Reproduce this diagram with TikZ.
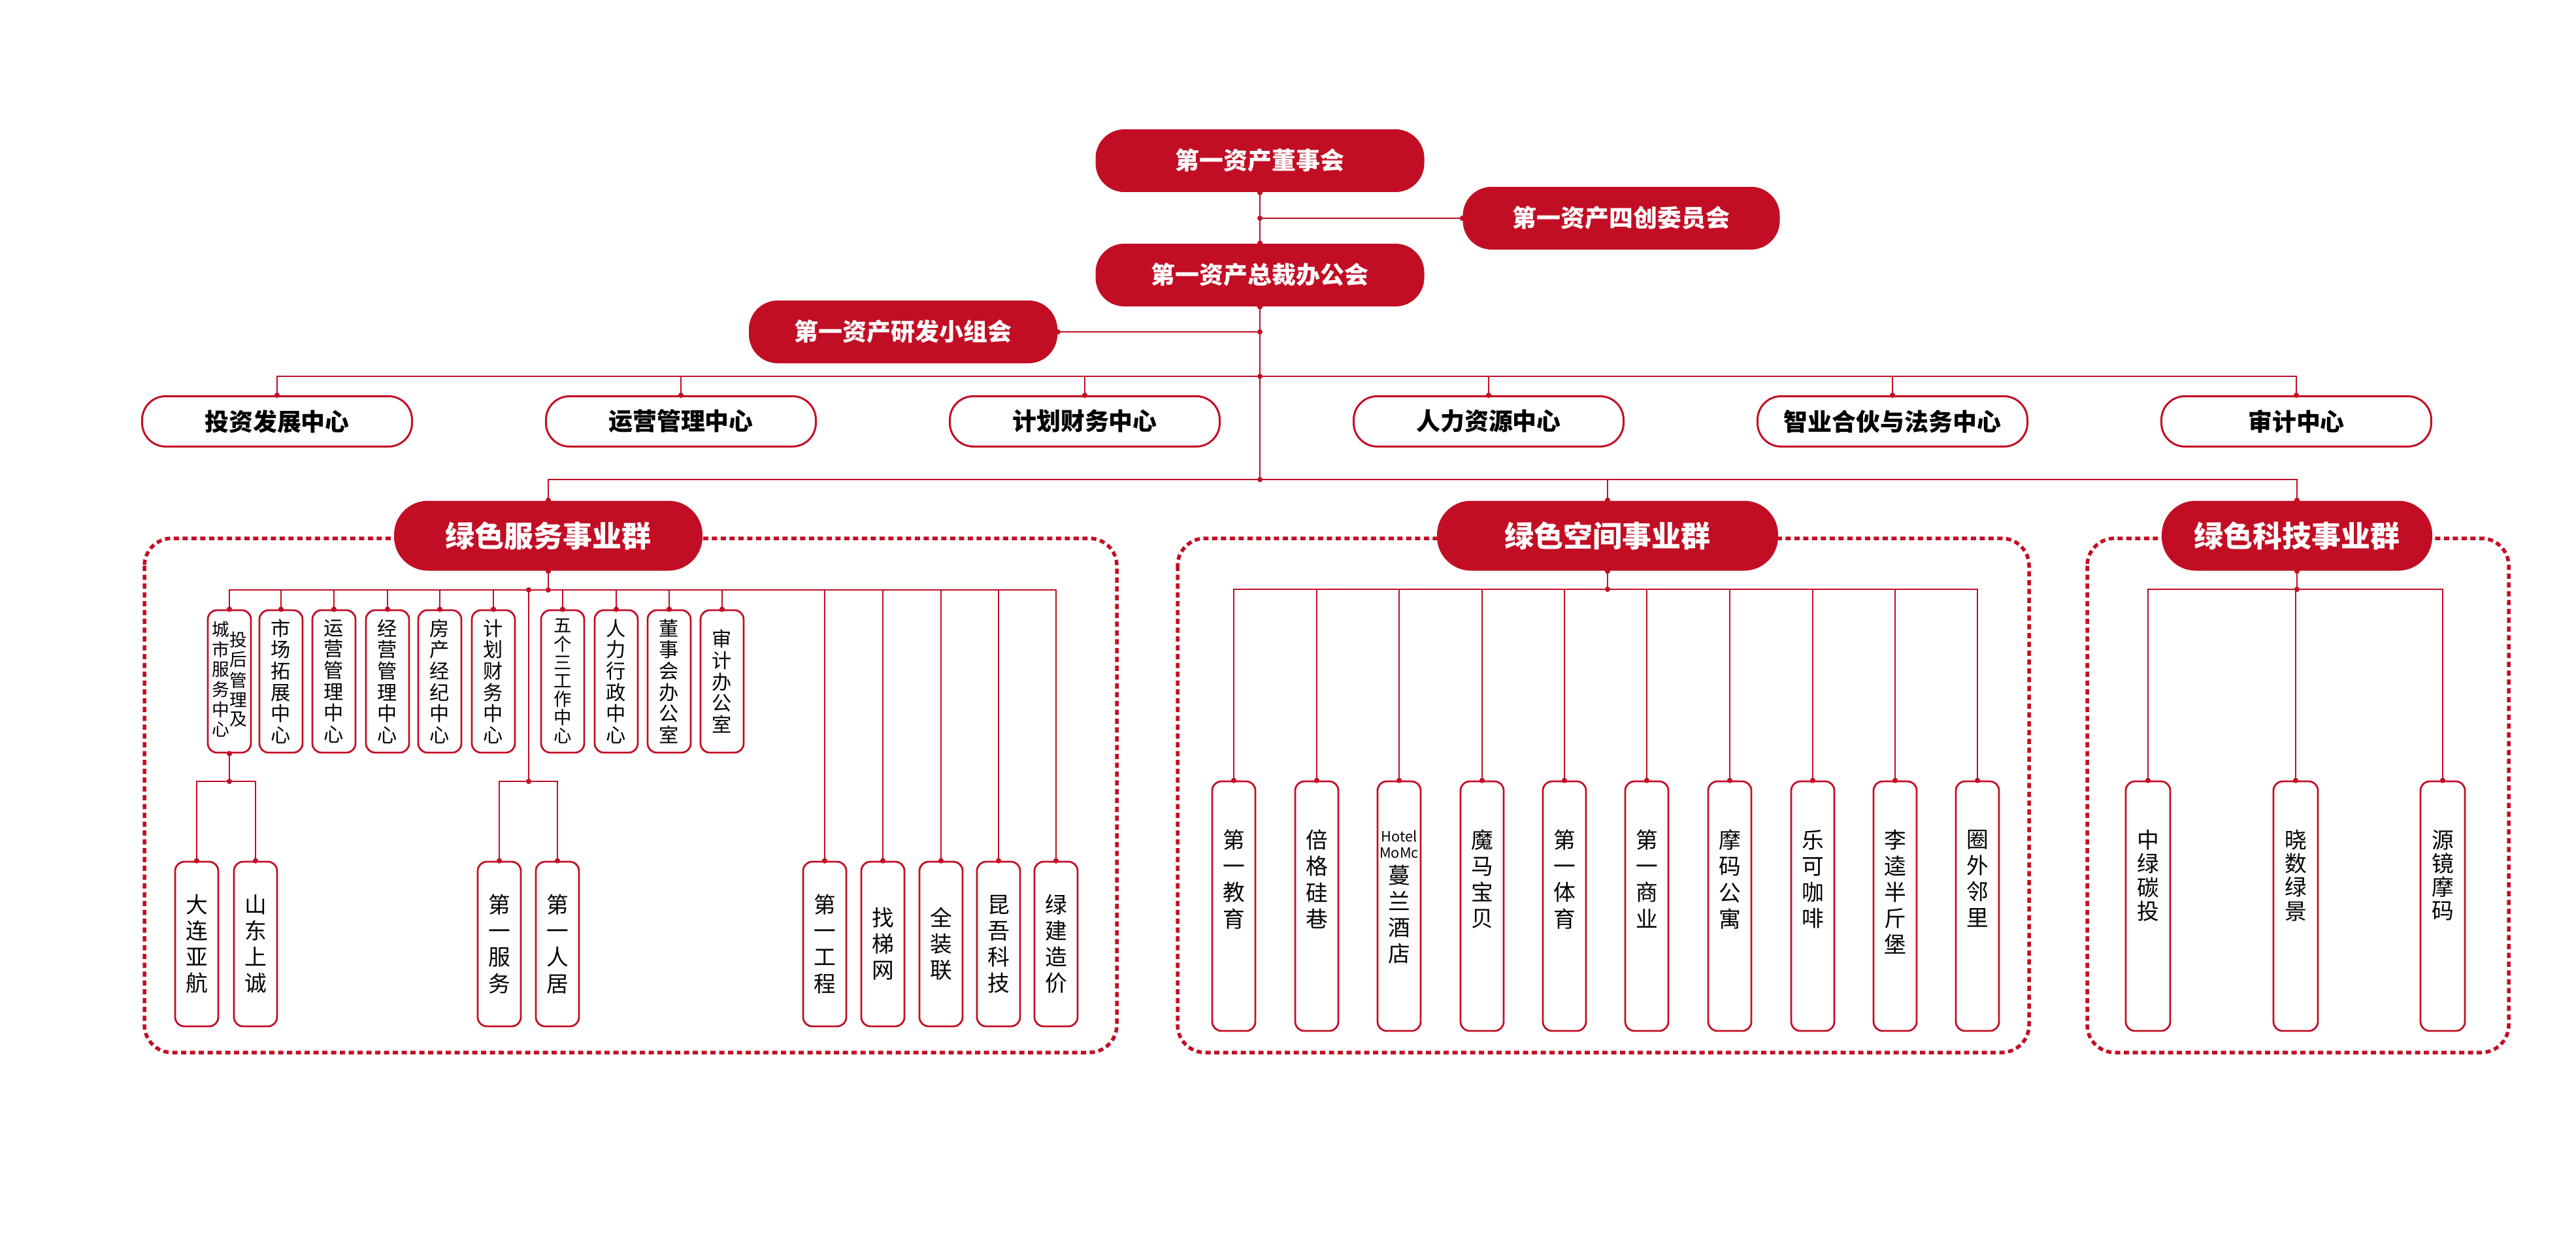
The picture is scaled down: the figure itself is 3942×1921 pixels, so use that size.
\documentclass[tikz,border=0pt]{standalone}
\usepackage{fontspec}
\setmainfont{Noto Sans CJK SC}
\usepackage{xcolor}
\usetikzlibrary{arrows.meta,positioning,calc}
\definecolor{brandred}{RGB}{194,14,36}

\begin{document}
\begin{tikzpicture}[
    x=0.1mm,
    y=-0.1mm,
    wire/.style={draw=brandred, line width=0.26mm},
    dotend/.style={-{Circle[length=0.8mm]}, shorten >=-0.4mm},
    dotstart/.style={{Circle[length=0.8mm]}-, shorten <=-0.4mm},
    dotboth/.style={{Circle[length=0.8mm]}-{Circle[length=0.8mm]},
                    shorten <=-0.4mm, shorten >=-0.4mm},
    jdot/.style={circle, fill=brandred, inner sep=0pt, minimum size=0.8mm},
    boardbox/.style={fill=brandred, text=white, rounded corners=4.4mm,
                     minimum height=9.6mm, inner sep=0pt,
                     font=\bfseries\fontsize{10.5}{12}\selectfont},
    funcbox/.style={draw=brandred, line width=0.3mm, fill=white,
                    rounded corners=3.6mm, minimum width=41.3mm,
                    minimum height=7.7mm, inner sep=0pt,
                    font=\bfseries\fontsize{10.5}{12}\selectfont},
    grpbox/.style={fill=brandred, text=white, rounded corners=5.2mm,
                   minimum height=10.7mm, inner sep=0pt,
                   font=\bfseries\fontsize{12.8}{14}\selectfont},
    grpframe/.style={draw=brandred, line width=0.55mm,
                     dash pattern=on 0.8mm off 0.55mm, rounded corners=4.2mm},
    deptbox/.style={draw=brandred, line width=0.28mm, fill=white,
                    rounded corners=1.4mm, minimum width=6.6mm,
                    minimum height=21.8mm, inner sep=0pt, align=center,
                    font=\fontsize{8.6}{9.3}\selectfont},
    unitbox/.style={deptbox, minimum height=25.2mm,
                    font=\fontsize{9.6}{11.4}\selectfont},
    tallbox/.style={deptbox, minimum height=38.2mm},
    unitlabel/.style={anchor=north, inner sep=0pt, align=center,
                      font=\fontsize{9.6}{11.4}\selectfont},
]
\useasboundingbox (0,0) rectangle (3942,1921);

% frames of the three groups
\draw[grpframe] (221,824) rectangle (1709,1611);
\draw[grpframe] (1802,824) rectangle (3105,1611);
\draw[grpframe] (3194,824) rectangle (3839,1611);

% top level
\node[boardbox, minimum width=50.3mm] (board) at (1928,246) {第一资产董事会};
\node[boardbox, minimum width=48.5mm] (innov) at (2481,334) {第一资产四创委员会};
\node[boardbox, minimum width=50.3mm] (pres) at (1928,421) {第一资产总裁办公会};
\node[boardbox, minimum width=47.2mm] (rnd) at (1382,508) {第一资产研发小组会};

\coordinate (tInnov) at (board.south |- innov.west);
\coordinate (tRnd) at (pres.south |- rnd.east);
\coordinate (tFunc) at (1928,576);
\coordinate (tGrp) at (1928,734);

\draw[wire, dotboth] (board.south) -- (pres.north);
\draw[wire, dotend] (tInnov) -- (innov.west);
\draw[wire, dotstart] (pres.south) -- (tGrp);
\draw[wire, dotend] (tRnd) -- (rnd.east);
\foreach \c in {tInnov,tRnd,tFunc,tGrp}
  \node[jdot] (\c-d) at (\c) {};

\foreach \n/\x/\t in {f1/424/投资发展中心, f2/1042/运营管理中心,
    f3/1660/计划财务中心, f4/2278/人力资源中心,
    f5/2896/智业合伙与法务中心, f6/3514/审计中心}{
  \node[funcbox] (\n) at (\x,645) {\t};
  \draw[wire, dotend] (tFunc) -| (\n.north);
}

\node[grpbox, minimum width=47.2mm] (g1) at (839,820) {绿色服务事业群};
\node[grpbox, minimum width=52.2mm] (g2) at (2460,820) {绿色空间事业群};
\node[grpbox, minimum width=41.4mm] (g3) at (3515,820) {绿色科技事业群};
\foreach \g in {g1,g2,g3}
  \draw[wire, dotend] (tGrp) -| (\g.north);

% green services
\coordinate (g1bus) at (g1.south |- 0,903);
\coordinate (g1fork) at (809,903);
\coordinate (g1split) at (809,1196);
\draw[wire, dotboth] (g1.south) -- (g1bus);

\node[deptbox, font=\fontsize{7.6}{8.2}\selectfont] (a1) at (351,1043)
  {\begin{tabular}{@{}c@{}}城\\市\\服\\务\\中\\心\end{tabular}%
   \begin{tabular}{@{}c@{}}投\\后\\管\\理\\及\end{tabular}};
\node[deptbox, font=\fontsize{7.8}{8}\selectfont] (a7) at (861,1043)
  {五\\个\\三\\工\\作\\中\\心};
\foreach \n/\x/\t in {a2/430/{市\\场\\拓\\展\\中\\心}, a3/511/{运\\营\\管\\理\\中\\心},
    a4/593/{经\\营\\管\\理\\中\\心}, a5/673/{房\\产\\经\\纪\\中\\心},
    a6/755/{计\\划\\财\\务\\中\\心}, a8/943/{人\\力\\行\\政\\中\\心},
    a9/1024/{董\\事\\会\\办\\公\\室}, a10/1105/{审\\计\\办\\公\\室}}
  \node[deptbox] (\n) at (\x,1043) {\t};
\foreach \n in {a1,a2,a3,a4,a5,a6,a7,a8,a9,a10}
  \draw[wire, dotend] (g1bus) -| (\n.north);

\foreach \n/\x/\t in {b1/301/{大\\连\\亚\\航}, b2/391/{山\\东\\上\\诚},
    b3/764/{第\\一\\服\\务}, b4/853/{第\\一\\人\\居},
    b5/1262/{第\\一\\工\\程}, b6/1351/{找\\梯\\网}, b7/1440/{全\\装\\联},
    b8/1528/{昆\\吾\\科\\技}, b9/1616/{绿\\建\\造\\价}}
  \node[unitbox] (\n) at (\x,1445) {\t};

\coordinate (a1split) at (a1.south |- 0,1196);
\draw[wire, dotboth] (a1.south) -- (a1split);
\draw[wire, dotend] (a1split) -| (b1.north);
\draw[wire, dotend] (a1split) -| (b2.north);
\draw[wire, dotboth] (g1fork) -- (g1split);
\draw[wire, dotend] (g1split) -| (b3.north);
\draw[wire, dotend] (g1split) -| (b4.north);
\foreach \n in {b5,b6,b7,b8,b9}
  \draw[wire, dotend] (g1bus) -| (\n.north);

% green spaces
\coordinate (g2bus) at (g2.south |- 0,902);
\draw[wire, dotboth] (g2.south) -- (g2bus);
\foreach \n/\x/\t in {c1/1888/{第\\一\\教\\育}, c2/2015/{倍\\格\\硅\\巷},
    c4/2268/{魔\\马\\宝\\贝}, c5/2394/{第\\一\\体\\育},
    c6/2520/{第\\一\\商\\业}, c7/2647/{摩\\码\\公\\寓},
    c8/2774/{乐\\可\\咖\\啡}, c9/2900/{李\\逵\\半\\斤\\堡},
    c10/3026/{圈\\外\\邻\\里}}{
  \node[tallbox] (\n) at (\x,1387) {};
  \node[unitlabel] (\n-t) at ([yshift=-7.5mm]\n.north) {\t};
}
\node[tallbox] (c3) at (2141,1387) {};
\node[unitlabel] (c3-t) at ([yshift=-7.5mm]c3.north)
  {{\fontsize{6.2}{7.2}\selectfont\begin{tabular}{@{}c@{}}Hotel\\MoMc\end{tabular}}\\
   蔓\\兰\\酒\\店};
\foreach \n in {c1,c2,c3,c4,c5,c6,c7,c8,c9,c10}
  \draw[wire, dotend] (g2bus) -| (\n.north);

% green tech
\coordinate (g3bus) at (g3.south |- 0,902);
\draw[wire, dotboth] (g3.south) -- (g3bus);
\foreach \n/\x/\t in {e1/3287/{中\\绿\\碳\\投}, e2/3513/{晓\\数\\绿\\景},
    e3/3738/{源\\镜\\摩\\码}}{
  \node[tallbox, minimum width=6.8mm] (\n) at (\x,1387) {};
  \node[unitlabel, font=\fontsize{9.6}{10.3}\selectfont] (\n-t)
    at ([yshift=-7.5mm]\n.north) {\t};
  \draw[wire, dotend] (g3bus) -| (\n.north);
}
\end{tikzpicture}
\end{document}
